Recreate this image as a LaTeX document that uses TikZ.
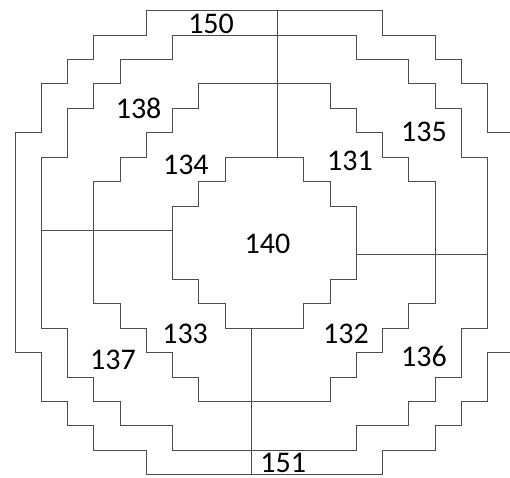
\documentclass[tikz,border=0pt]{standalone}
\usepackage{fontspec}
\setmainfont{Carlito}
\usepackage{tikz}
\usetikzlibrary{positioning}

\begin{document}
\begin{tikzpicture}[x=0.7875cm, y=-0.7326cm,
    wall/.style={draw=black!70, line width=0.8pt},
    zone/.style={inner sep=0pt, font=\fontsize{25.6}{30}\selectfont}]
  \useasboundingbox (-0.571,-0.438) rectangle (18.857,19.095);
  \clip (-0.571,-0.438) rectangle (18.857,19.095);

  % outer ring
  \draw[wall] (5,0) -- (14,0) -- (14,1) -- (16,1) -- (16,2) -- (17,2) -- (17,3)
    -- (18,3) -- (18,5) -- (19,5) -- (19,14) -- (18,14) -- (18,16) -- (17,16)
    -- (17,17) -- (16,17) -- (16,18) -- (14,18) -- (14,19) -- (5,19) -- (5,18)
    -- (3,18) -- (3,17) -- (2,17) -- (2,16) -- (1,16) -- (1,14) -- (0,14)
    -- (0,5) -- (1,5) -- (1,3) -- (2,3) -- (2,2) -- (3,2) -- (3,1) -- (5,1) -- cycle;
  % second ring
  \draw[wall] (6,1) -- (13,1) -- (13,2) -- (15,2) -- (15,3) -- (16,3) -- (16,4)
    -- (17,4) -- (17,6) -- (18,6) -- (18,13) -- (17,13) -- (17,15) -- (16,15)
    -- (16,16) -- (15,16) -- (15,17) -- (13,17) -- (13,18) -- (6,18) -- (6,17)
    -- (4,17) -- (4,16) -- (3,16) -- (3,15) -- (2,15) -- (2,13) -- (1,13)
    -- (1,6) -- (2,6) -- (2,4) -- (3,4) -- (3,3) -- (4,3) -- (4,2) -- (6,2) -- cycle;
  % third ring
  \draw[wall] (7,3) -- (12,3) -- (12,4) -- (13,4) -- (13,5) -- (14,5) -- (14,6)
    -- (15,6) -- (15,7) -- (16,7) -- (16,12) -- (15,12) -- (15,13) -- (14,13)
    -- (14,14) -- (13,14) -- (13,15) -- (12,15) -- (12,16) -- (7,16) -- (7,15)
    -- (6,15) -- (6,14) -- (5,14) -- (5,13) -- (4,13) -- (4,12) -- (3,12)
    -- (3,7) -- (4,7) -- (4,6) -- (5,6) -- (5,5) -- (6,5) -- (6,4) -- (7,4) -- cycle;
  % centre
  \draw[wall] (8,6) -- (11,6) -- (11,7) -- (12,7) -- (12,8) -- (13,8) -- (13,11)
    -- (12,11) -- (12,12) -- (11,12) -- (11,13) -- (8,13) -- (8,12) -- (7,12)
    -- (7,11) -- (6,11) -- (6,8) -- (7,8) -- (7,7) -- (8,7) -- cycle;

  % dividers
  \draw[wall] (10,0) -- (10,6);
  \draw[wall] (9,13) -- (9,19);
  \draw[wall] (1,9) -- (6,9);
  \draw[wall] (13,10) -- (18,10);

  \node[zone] (z150) at (7.47,0.52) {150};
  \node[zone] (z138) at (4.71,3.98) {138};
  \node[zone] (z134) at (6.51,6.32) {134};
  \node[zone] (z135) at (15.58,4.97) {135};
  \node[zone] (z131) at (12.76,6.16) {131};
  \node[zone] (z140) at (9.62,9.53) {140};
  \node[zone] (z133) at (6.48,13.24) {133};
  \node[zone] (z137) at (3.73,14.30) {137};
  \node[zone] (z132) at (12.61,13.24) {132};
  \node[zone] (z136) at (15.58,14.14) {136};
  \node[zone] (z151) at (10.22,18.50) {151};
\end{tikzpicture}
\end{document}
